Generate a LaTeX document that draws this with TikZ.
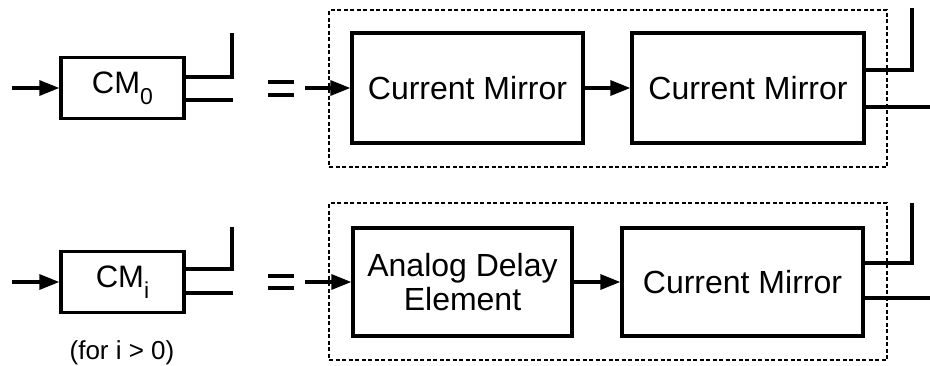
\documentclass[tikz,border=0pt]{standalone}
\usepackage{fontspec}
\setmainfont{Liberation Sans}
\usetikzlibrary{arrows.meta}
\newcommand{\subsc}[1]{\raisebox{-0.35em}{\fontsize{23}{23}\selectfont #1}}
\begin{document}
\begin{tikzpicture}[x=1pt,y=-1pt,
  blk/.style={draw,line width=3.3pt,inner sep=0pt,align=center,font=\fontsize{32}{34}\selectfont},
  small/.style={blk,minimum width=123pt,minimum height=61pt,font=\fontsize{31}{34}\selectfont},
  wire/.style={line width=3.2pt},
  arr/.style={wire,-{Triangle[length=20pt,width=15pt]}},
  grp/.style={draw,line width=1.5pt,dash pattern=on 4pt off 2.5pt,inner sep=0pt,minimum width=558pt,minimum height=157pt}]
\useasboundingbox (0,0) rectangle (930,365);

% ---------- top row ----------
\node[small] (cm0) at (122.5,88) {CM\subsc{0}};
\coordinate (in0) at (12,88);
\draw[arr] (in0) -- (cm0);
\coordinate (p1) at (232,33);
\coordinate (p2) at (233,100);
\draw[wire] (cm0.east |- 0,77) -| (p1);
\draw[wire] (cm0.east |- p2) -- (p2);
\draw[wire] (268,82) -- (294,82) (268,95) -- (294,95);

\node[grp] (g1) at (608,88.5) {};
\node[blk,minimum width=231pt,minimum height=110pt] (cmA) at (467.5,88) {Current Mirror};
\node[blk,minimum width=232pt,minimum height=110pt] (cmB) at (748,88) {Current Mirror};
\coordinate (e0) at (305,88);
\draw[arr] (e0) -- (cmA);
\draw[arr] (cmA) -- (cmB);
\coordinate (o1) at (912,8);
\coordinate (o2) at (930,107);
\draw[wire] (cmB.east |- 0,70) -| (o1);
\draw[wire] (cmB.east |- o2) -- (o2);

% ---------- bottom row ----------
\node[small] (cmi) at (122.5,282) {CM\subsc{i}};
\coordinate (in1) at (12,282);
\draw[arr] (in1) -- (cmi);
\coordinate (q1) at (232,227);
\coordinate (q2) at (233,293);
\draw[wire] (cmi.east |- 0,269) -| (q1);
\draw[wire] (cmi.east |- q2) -- (q2);
\draw[wire] (268,276) -- (294,276) (268,288) -- (294,288);
\node[font=\fontsize{26}{28}\selectfont] (note) at (122,353) {(for i > 0)};

\node[grp] (g2) at (608,281.5) {};
\node[blk,minimum width=219pt,minimum height=108pt] (ade) at (462.5,282) {Analog Delay\\Element};
\node[blk,minimum width=241pt,minimum height=108pt] (cmC) at (742.5,282) {Current Mirror};
\coordinate (e1) at (305,282);
\draw[arr] (e1) -- (ade);
\draw[arr] (ade) -- (cmC);
\coordinate (r1) at (912,203);
\coordinate (r2) at (930,298);
\draw[wire] (cmC.east |- 0,263) -| (r1);
\draw[wire] (cmC.east |- r2) -- (r2);
\end{tikzpicture}
\end{document}
